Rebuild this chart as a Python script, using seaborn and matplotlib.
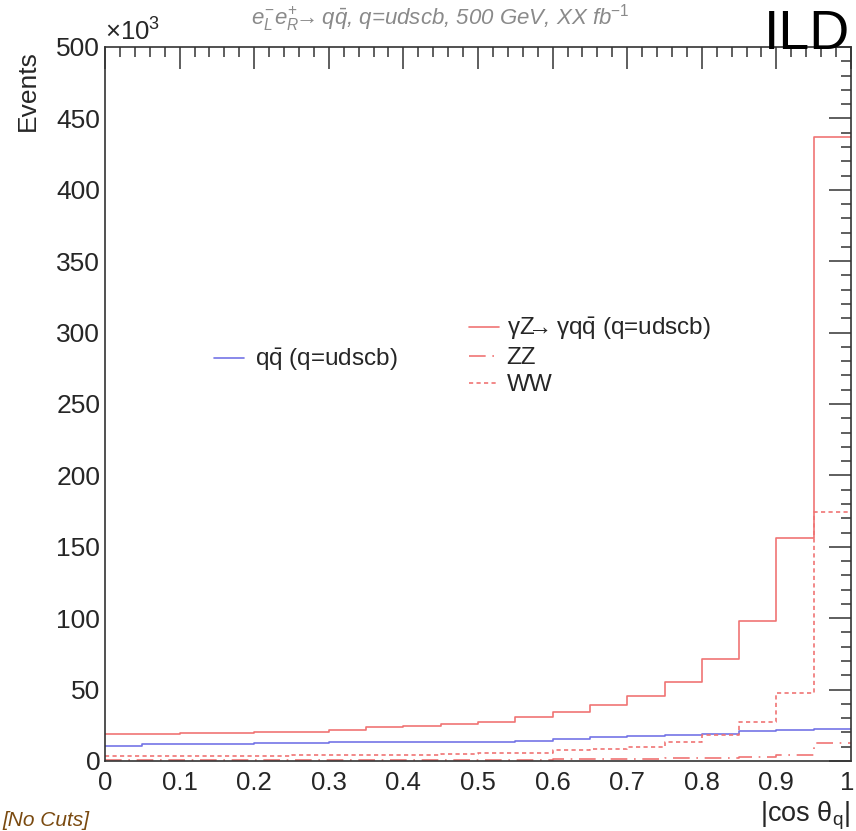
import numpy as np
import pandas as pd
import matplotlib
matplotlib.use("Agg")
import matplotlib.pyplot as plt
import matplotlib.transforms as mtransforms
from matplotlib.ticker import AutoMinorLocator, FixedLocator
from matplotlib.lines import Line2D
import seaborn as sns

# ---------------- data (Events in units of 10^3) ----------------
bin_edges = [0.00, 0.05, 0.10, 0.15, 0.20, 0.25, 0.30, 0.35, 0.40, 0.45, 0.50,
             0.55, 0.60, 0.65, 0.70, 0.75, 0.80, 0.85, 0.90, 0.95, 1.00]
gammaZ = [18.7, 18.7, 19.6, 19.6, 20.3, 20.3, 21.7, 23.6, 24.5, 25.9,
          27.5, 31.0, 34.3, 39.2, 45.8, 55.5, 71.4, 98.0, 156.5, 437.0]
qq = [10.5, 12.1, 12.2, 12.2, 12.3, 12.4, 13.1, 13.1, 13.5, 13.5,
      13.6, 14.2, 15.2, 16.6, 17.3, 18.2, 18.9, 21.0, 21.9, 22.6]
zz = [0.5, 0.5, 0.5, 0.6, 0.6, 0.6, 0.7, 0.7, 0.8, 0.8,
      0.9, 1.0, 1.1, 1.3, 1.5, 1.9, 1.9, 2.6, 4.2, 12.4]
ww = [3.5, 3.5, 3.6, 3.7, 3.8, 3.9, 4.2, 4.3, 4.5, 5.0,
      5.6, 5.8, 7.7, 8.4, 9.8, 13.5, 18.2, 27.5, 47.4, 174.5]
x_ticks = [0, 0.1, 0.2, 0.3, 0.4, 0.5, 0.6, 0.7, 0.8, 0.9, 1.0]
x_tick_labels = ["0", "0.1", "0.2", "0.3", "0.4", "0.5", "0.6", "0.7", "0.8", "0.9", "1"]
y_ticks = [0, 50, 100, 150, 200, 250, 300, 350, 400, 450, 500]
y_tick_labels = ["0", "50", "100", "150", "200", "250", "300", "350", "400", "450", "500"]

labels = {
    "qq": r"$\mathrm{q\bar{q}}$ (q=udscb)",
    "gZ": r"γZ$\!\!\!\rightarrow$γ$\mathrm{q\bar{q}}$ (q=udscb)",
    "zz": "ZZ",
    "ww": "WW",
}

# ---------------- style ----------------
sns.set_theme(style="white")
plt.rcParams["font.family"] = ["Liberation Sans", "DejaVu Sans"]
plt.rcParams["mathtext.fontset"] = "custom"
plt.rcParams["mathtext.rm"] = "Liberation Sans"
plt.rcParams["mathtext.it"] = "Liberation Sans:italic"
plt.rcParams["mathtext.bf"] = "Liberation Sans:bold"

RED = "#f07474"
BLUE = "#7474e6"
ZZ_LS = (0, (10, 4, 1, 4))
WW_LS = (0, (2.5, 2))

W, H = 856, 831
fig = plt.figure(figsize=(W / 100, H / 100), dpi=100)
ax = fig.add_axes([105 / W, 1 - 761 / H, (851 - 105) / W, (761 - 47) / H])

centers = [(a + b) / 2 for a, b in zip(bin_edges[:-1], bin_edges[1:])]
series = [
    (qq, BLUE, "-"),
    (gammaZ, RED, "-"),
    (zz, RED, ZZ_LS),
    (ww, RED, WW_LS),
]
for vals, col, ls in series:
    sns.histplot(x=centers, weights=vals, bins=bin_edges, element="step",
                 fill=False, color=col, linewidth=1.2, linestyle=ls, ax=ax)

ax.set_xlim(0, 1)
ax.set_ylim(0, 500)
ax.set_xlabel("")
ax.set_ylabel("")
ax.xaxis.set_major_locator(FixedLocator(x_ticks))
ax.set_xticklabels(x_tick_labels)
ax.yaxis.set_major_locator(FixedLocator(y_ticks))
ax.set_yticklabels(y_tick_labels)
ax.xaxis.set_minor_locator(AutoMinorLocator(5))
ax.yaxis.set_minor_locator(AutoMinorLocator(5))
ax.tick_params(axis="both", which="both", direction="in", top=True, right=True,
               color="#333333", width=1.1)
ax.tick_params(axis="both", which="major", length=15.5)
ax.tick_params(axis="both", which="minor", length=7.5)
ax.tick_params(axis="x", which="major", pad=7.5, labelsize=18.5)
ax.tick_params(axis="y", which="major", pad=3.5, labelsize=19)
for s in ax.spines.values():
    s.set_color("#333333")
    s.set_linewidth(1.2)

# keep the last x tick label inside the figure
last = ax.get_xticklabels()[-1]
last.set_transform(last.get_transform() +
                   mtransforms.ScaledTranslation(-4 / 100, 0, fig.dpi_scale_trans))

# legends
h_left = [Line2D([], [], color=BLUE, lw=1.2)]
leg1 = fig.legend(h_left, [labels["qq"]], loc="center left",
                  bbox_to_anchor=(214 / W, 1 - 360 / H), frameon=False,
                  fontsize=17.5, handlelength=1.25, handletextpad=0.45,
                  borderpad=0, borderaxespad=0)
h_right = [Line2D([], [], color=RED, lw=1.2),
           Line2D([], [], color=RED, lw=1.2, ls=ZZ_LS),
           Line2D([], [], color=RED, lw=1.2, ls=WW_LS)]
leg2 = fig.legend(h_right, [labels["gZ"], labels["zz"], labels["ww"]],
                  loc="center left", bbox_to_anchor=(469 / W, 1 - 356 / H),
                  frameon=False, fontsize=17.5, handlelength=1.25,
                  handletextpad=0.3, labelspacing=0.2, borderpad=0,
                  borderaxespad=0)

# texts
fig.text(105 / W, 1 - 46 / H, r"×10$^{3}$", ha="left", va="bottom", fontsize=18.5)
fig.text(28 / W, 1 - 50 / H, "Events", rotation=90, ha="center", va="top", fontsize=19)
fig.text(850 / W, 1 - 822 / H, r"|cos θ$_{\mathrm{q}}$|", ha="right", va="baseline",
         fontsize=19.5)
fig.text(440 / W, 1 - 25 / H,
         r"$e^{-}_{L}e^{+}_{R}\!\!\rightarrow q\bar{q}$, q=udscb, 500 GeV, XX fb$^{-1}$",
         ha="center", va="baseline", fontsize=16, color="#8a8a8a", style="italic")
fig.text(850 / W, 1 - 49 / H, "ILD", ha="right", va="baseline", fontsize=40,
         color="black")
fig.text(2 / W, 1 / H, "[No Cuts]", ha="left", va="bottom", fontsize=15,
         color="#7a4a10", style="italic")

fig.savefig("out.png", dpi=100)
